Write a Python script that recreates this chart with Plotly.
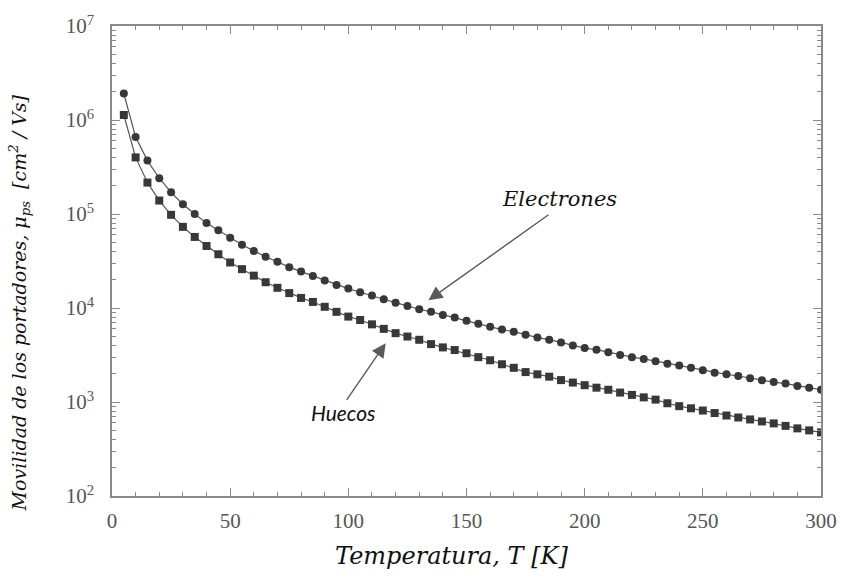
import plotly.graph_objects as go

# Temperature (K)
temperature = list(range(5, 301, 5))

# Electron mobility (cm^2/Vs) - circles
electrones = [
    1.91e6, 6.6e5, 3.7e5, 2.4e5, 1.7e5, 1.27e5, 1.0e5, 8.0e4, 6.7e4, 5.6e4,
    4.7e4, 4.05e4, 3.5e4, 3.1e4, 2.72e4, 2.44e4, 2.19e4, 1.96e4, 1.76e4, 1.61e4,
    1.47e4, 1.36e4, 1.24e4, 1.14e4, 1.05e4, 9.7e3, 9.1e3, 8.4e3, 7.9e3, 7.3e3,
    6.8e3, 6.3e3, 5.9e3, 5.6e3, 5.2e3, 4.85e3, 4.6e3, 4.3e3, 4.0e3, 3.75e3,
    3.6e3, 3.38e3, 3.16e3, 3.0e3, 2.87e3, 2.72e3, 2.55e3, 2.45e3, 2.31e3, 2.17e3,
    2.05e3, 1.97e3, 1.89e3, 1.79e3, 1.70e3, 1.63e3, 1.57e3, 1.48e3, 1.42e3, 1.35e3,
]

# Hole mobility (cm^2/Vs) - squares
huecos = [
    1.13e6, 4.0e5, 2.16e5, 1.39e5, 9.8e4, 7.3e4, 5.7e4, 4.57e4, 3.73e4, 3.05e4,
    2.59e4, 2.21e4, 1.88e4, 1.64e4, 1.44e4, 1.28e4, 1.16e4, 1.03e4, 9.1e3, 8.1e3,
    7.45e3, 6.7e3, 6.0e3, 5.4e3, 4.97e3, 4.59e3, 4.13e3, 3.81e3, 3.57e3, 3.3e3,
    3.0e3, 2.78e3, 2.52e3, 2.31e3, 2.08e3, 1.97e3, 1.86e3, 1.71e3, 1.61e3, 1.51e3,
    1.42e3, 1.35e3, 1.26e3, 1.19e3, 1.12e3, 1.06e3, 970, 903, 857, 811,
    763, 718, 684, 652, 621, 592, 557, 524, 499, 475,
]

y_tickvals = [1e2, 1e3, 1e4, 1e5, 1e6, 1e7]
y_ticktext = ["10<sup>2</sup>", "10<sup>3</sup>", "10<sup>4</sup>",
              "10<sup>5</sup>", "10<sup>6</sup>", "10<sup>7</sup>"]
x_tickvals = [0, 50, 100, 150, 200, 250, 300]

W, H = 849, 580
ML, MR, MT, MB = 112, 21, 20, 84
PW, PH = W - ML - MR, H - MT - MB

mark_color = "#383838"
axis_color = "#8a8a8a"
tick_font = dict(family="Liberation Serif", size=21, color="#555555")


def px(x):
    return (x - ML) / PW


def py(y):
    return 1 - (y - MT) / PH


fig = go.Figure()
fig.add_trace(go.Scatter(
    x=temperature, y=electrones, mode="lines+markers", name="Electrones",
    line=dict(color="#555555", width=1.2),
    marker=dict(symbol="circle", size=8, color=mark_color),
    showlegend=False,
))
fig.add_trace(go.Scatter(
    x=temperature, y=huecos, mode="lines+markers", name="Huecos",
    line=dict(color="#555555", width=1.2),
    marker=dict(symbol="square", size=8, color=mark_color),
    showlegend=False,
))

fig.update_layout(
    width=W, height=H,
    margin=dict(l=ML, r=MR, t=MT, b=MB),
    paper_bgcolor="white", plot_bgcolor="white",
    xaxis=dict(
        range=[0, 300], tickvals=x_tickvals,
        showline=True, linecolor=axis_color, linewidth=1.5, mirror="allticks",
        ticks="inside", ticklen=8, tickcolor=axis_color, tickwidth=1,
        minor=dict(ticks="inside", ticklen=4, dtick=10, tickcolor=axis_color, showgrid=False),
        showgrid=False, zeroline=False, tickfont=tick_font, ticklabelstandoff=5,
    ),
    yaxis=dict(
        type="log", range=[2, 7], tickvals=y_tickvals, ticktext=y_ticktext,
        showline=True, linecolor=axis_color, linewidth=1.5, mirror="allticks",
        ticks="inside", ticklen=8, tickcolor=axis_color, tickwidth=1,
        minor=dict(ticks="inside", ticklen=4, dtick="D1", tickcolor=axis_color, showgrid=False),
        showgrid=False, zeroline=False, tickfont=tick_font, ticklabelstandoff=12,
    ),
)

# Axis titles (as annotations for exact placement)
fig.add_annotation(x=px(455), y=py(557), xref="paper", yref="paper",
                   xanchor="center", yanchor="middle", showarrow=False,
                   text="<i>Temperatura, T [K]</i>",
                   font=dict(family="DejaVu Serif", size=24, color="#111111"))
fig.add_annotation(x=px(19), y=py(300), xref="paper", yref="paper",
                   xanchor="center", yanchor="middle", showarrow=False, textangle=-90,
                   text="<i>Movilidad de los portadores, μ<sub>ps</sub>  [cm<sup>2</sup> / Vs]</i>",
                   font=dict(family="DejaVu Serif", size=19, color="#111111"))

# Arrows
fig.add_annotation(x=133.9, y=4.082, xref="x", yref="y", ax=121.6, ay=-86.6,
                   text="", showarrow=True, arrowhead=2, arrowsize=2.0,
                   arrowwidth=1.4, arrowcolor="#5a5a5a")
fig.add_annotation(x=115.8, y=3.626, xref="x", yref="y", ax=-40, ay=58.3,
                   text="", showarrow=True, arrowhead=2, arrowsize=2.0,
                   arrowwidth=1.4, arrowcolor="#5a5a5a")
# Labels
fig.add_annotation(x=px(564), y=py(195), xref="paper", yref="paper",
                   xanchor="center", yanchor="middle", showarrow=False,
                   text="<i>Electrones</i>",
                   font=dict(family="DejaVu Serif", size=21, color="#111111"))
fig.add_annotation(x=px(346), y=py(411), xref="paper", yref="paper",
                   xanchor="center", yanchor="middle", showarrow=False,
                   text="<i>Huecos</i>",
                   font=dict(family="Lato", size=21, color="#111111"))

fig.write_html("out.html")
